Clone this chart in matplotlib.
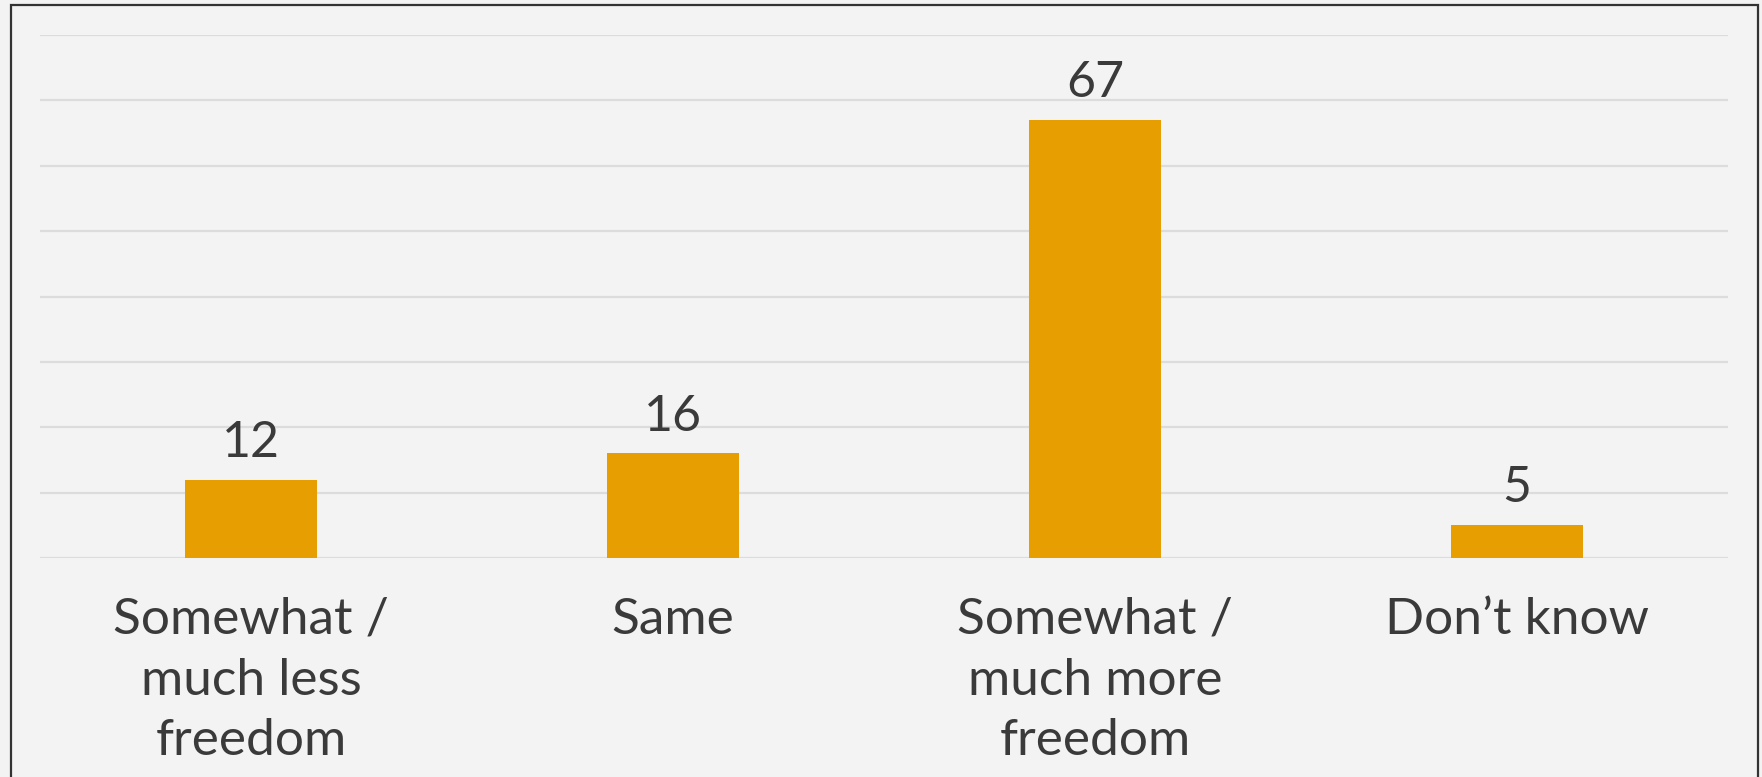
import numpy as np
import matplotlib.pyplot as plt
from matplotlib.patches import Rectangle

# data
categories = ['Somewhat /\nmuch less\nfreedom', 'Same', 'Somewhat /\nmuch more\nfreedom', "Don\u2019t know"]
values = [12, 16, 67, 5]

bar_color = '#E69E00'
text_color = '#3A3A3A'
bg = '#F3F3F3'

plt.rcParams['font.family'] = ['Lato', 'DejaVu Sans']

fig = plt.figure(figsize=(17.62, 7.77), dpi=100, facecolor=bg)
ax = fig.add_axes([40/1762, 1-558/777, (1728-40)/1762, (558-35)/777])
ax.set_facecolor('none')

x = np.arange(len(categories))
bars = ax.bar(x, values, width=0.313, color=bar_color, zorder=3)

ax.set_ylim(0, 80)
ax.set_xlim(-0.5, len(categories)-0.5)
ax.set_yticks(np.arange(0, 81, 10))
ax.yaxis.grid(True, color='#DCDCDC', linewidth=1.6, zorder=0)
ax.tick_params(axis='y', left=False, labelleft=False)
ax.tick_params(axis='x', length=0, pad=28)
ax.set_xticks(x)
ax.set_xticklabels(categories, fontsize=37, color=text_color, linespacing=1.4)
for s in ax.spines.values():
    s.set_visible(False)

ax.bar_label(bars, labels=[str(v) for v in values], padding=10, fontsize=36,
             color=text_color)

# slide frame
fig.patches.append(Rectangle((11/1762, -0.1), (1758-11)/1762, 1.1-5/777,
                             transform=fig.transFigure, fill=False,
                             edgecolor='#333333', linewidth=1.6))

fig.savefig('out.png', dpi=100, facecolor=bg)
